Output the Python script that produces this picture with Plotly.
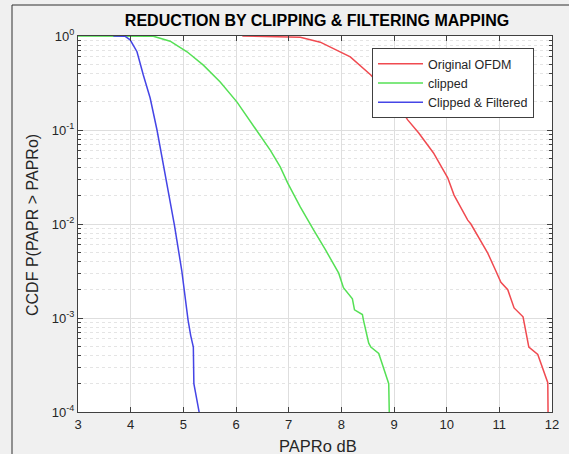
import plotly.graph_objects as go

# ---- data ----
red_x = [6.12, 6.98, 7.22, 7.60, 8.17, 8.56, 9.07, 9.26, 9.47, 9.75, 10.02, 10.14, 10.40,
         10.46, 10.59, 10.78, 10.93, 11.03, 11.16, 11.28, 11.45, 11.50, 11.56, 11.73, 11.92, 11.93]
red_y = [1.0, 0.99, 0.97, 0.86, 0.60, 0.385, 0.184, 0.128, 0.093, 0.057, 0.031, 0.0203, 0.0110,
         0.0100, 0.0075, 0.0049, 0.0032, 0.0024, 0.0020, 0.00128, 0.00103, 0.00074, 0.00049,
         0.00041, 0.000205, 0.00005]

green_x = [3.0, 4.43, 4.75, 5.07, 5.38, 5.70, 6.02, 6.27, 6.46, 6.65, 6.84, 6.98, 7.22, 7.36,
           7.47, 7.70, 7.95, 8.04, 8.21, 8.25, 8.40, 8.42, 8.52, 8.56, 8.71, 8.75, 8.90, 8.92]
green_y = [1.0, 0.995, 0.88, 0.68, 0.49, 0.324, 0.198, 0.125, 0.0885, 0.061, 0.0405, 0.0274,
           0.0152, 0.011, 0.0087, 0.0053, 0.0030, 0.0021, 0.0016, 0.00122, 0.00109, 0.00095,
           0.00054, 0.00049, 0.00042, 0.00036, 0.00020, 0.00005]

blue_x = [3.67, 3.89, 3.99, 4.12, 4.24, 4.37, 4.50, 4.63, 4.72, 4.83, 4.97, 5.04, 5.09, 5.14,
          5.19, 5.20, 5.30, 5.32]
blue_y = [1.0, 0.995, 0.91, 0.68, 0.385, 0.219, 0.10, 0.040, 0.020, 0.0098, 0.0032, 0.00144,
          0.00095, 0.00065, 0.00049, 0.00020, 0.00010, 0.00007]

series_names = ["Original OFDM", "clipped", "Clipped & Filtered"]

x_ticks = [3, 4, 5, 6, 7, 8, 9, 10, 11, 12]
y_ticks = [1e-4, 1e-3, 1e-2, 1e-1, 1]
y_ticktext = ["10<sup>-4</sup>", "10<sup>-3</sup>", "10<sup>-2</sup>", "10<sup>-1</sup>", "10<sup>0</sup>"]
y_minor = [m * 10.0 ** e for e in (-4, -3, -2, -1) for m in range(2, 10)]

title_text = "REDUCTION BY CLIPPING & FILTERING MAPPING"
x_title = "PAPRo dB"
y_title = "CCDF P(PAPR > PAPRo)"

# ---- figure ----
FONT = "Liberation Sans, Arial, Helvetica, sans-serif"
TXT = "#262626"
colors = ["#f04a50", "#55e055", "#4545e6"]

fig = go.Figure()
for xs, ys, name, c in zip([red_x, green_x, blue_x], [red_y, green_y, blue_y], series_names, colors):
    fig.add_trace(go.Scatter(x=xs, y=ys, mode="lines", name=name,
                             line=dict(color=c, width=1.5)))

W, H = 569, 454
L, R, T, B = 78, 17, 36, 42
pw, ph = W - L - R, H - T - B

def px2paper_x(px):
    return (px - L) / pw

def py2paper_y(py):
    return (H - B - py) / ph

axis_common = dict(
    showline=True, linecolor="#404040", linewidth=1, mirror="ticks",
    ticks="inside", ticklen=5, tickcolor="#404040",
    showgrid=True, gridcolor="#dedede", gridwidth=1,
    zeroline=False,
    tickfont=dict(family=FONT, size=13, color=TXT),
)

fig.update_xaxes(range=[3, 12], tickmode="array", tickvals=x_ticks,
                 ticktext=[str(v) for v in x_ticks], **axis_common)
fig.update_yaxes(type="log", range=[-4, 0], tickmode="array", tickvals=y_ticks,
                 ticktext=y_ticktext,
                 minor=dict(tickmode="array", tickvals=y_minor, ticks="inside", ticklen=3,
                            tickcolor="#404040", showgrid=True, gridcolor="#e4e4e4",
                            griddash="dot", gridwidth=1),
                 **axis_common)

fig.update_layout(
    width=W, height=H,
    margin=dict(l=L, r=R, t=T, b=B, autoexpand=False),
    paper_bgcolor="#f0f0f0", plot_bgcolor="white",
    font=dict(family=FONT, color=TXT),
    title=dict(text="<b>" + title_text + "</b>", x=px2paper_x(317), xref="paper",
               xanchor="center", y=1 - 20 / H, yanchor="middle",
               font=dict(family=FONT, size=16, color="black")),
    showlegend=True,
    legend=dict(x=px2paper_x(372), y=py2paper_y(48), xanchor="left", yanchor="top",
                bgcolor="white", bordercolor="#404040", borderwidth=1,
                font=dict(family=FONT, size=12.5, color=TXT),
                tracegroupgap=0, itemwidth=45),
    annotations=[
        dict(text=x_title, xref="paper", yref="paper", x=px2paper_x(318), y=py2paper_y(446),
             xanchor="center", yanchor="middle", showarrow=False,
             font=dict(family=FONT, size=16.5, color=TXT)),
        dict(text=y_title, xref="paper", yref="paper", x=px2paper_x(32), y=py2paper_y(225),
             xanchor="center", yanchor="middle", textangle=-90, showarrow=False,
             font=dict(family=FONT, size=16, color=TXT)),
    ],
    shapes=[
        dict(type="rect", xref="paper", yref="paper",
             x0=px2paper_x(12), x1=px2paper_x(600), y0=py2paper_y(500), y1=py2paper_y(5),
             line=dict(color="#303030", width=1), fillcolor="rgba(0,0,0,0)", layer="below"),
    ],
)

fig.write_html("out.html")
